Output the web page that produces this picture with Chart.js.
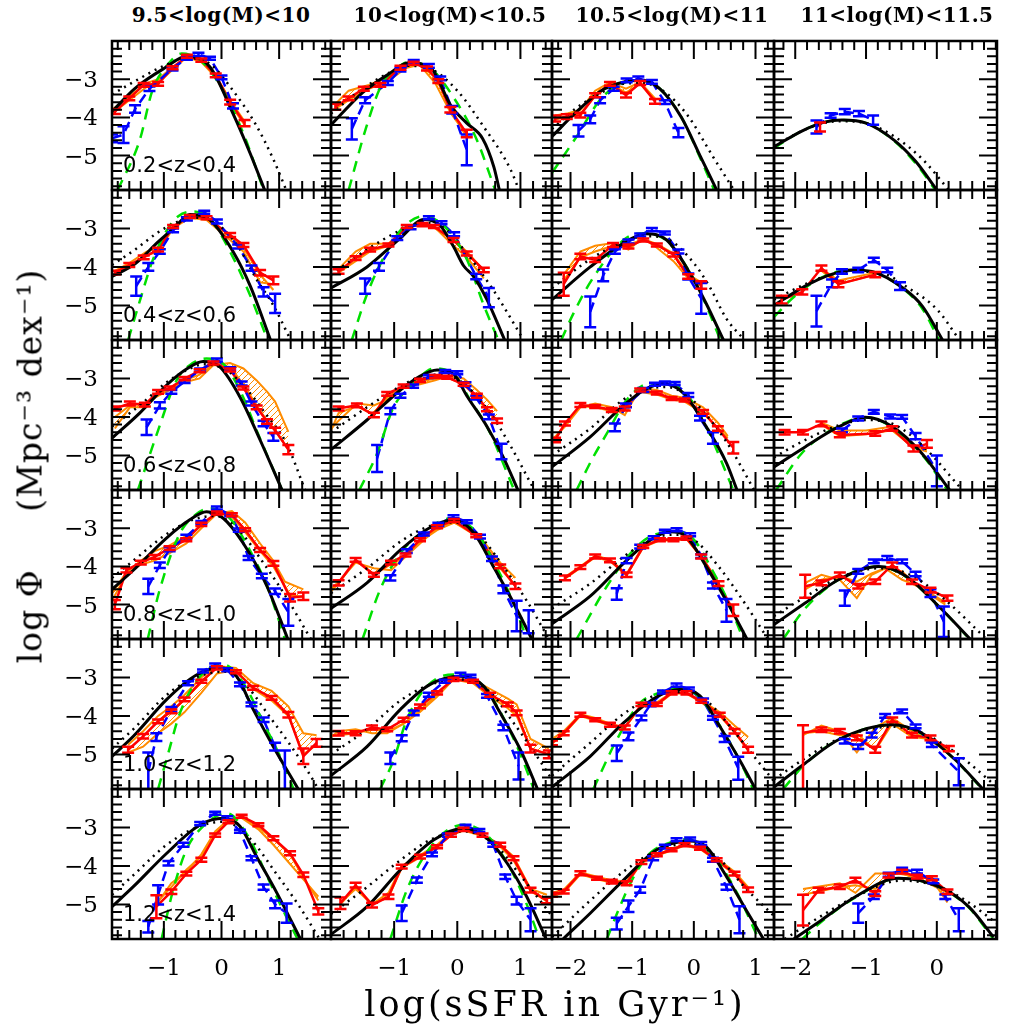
<!DOCTYPE html>
<html>
<head>
<meta charset="utf-8">
<script src="https://cdn.jsdelivr.net/npm/chart.js@4.4.1/dist/chart.umd.min.js"></script>
<style>
  body { margin: 0; background: #fff; }
  #page { position: relative; width: 1035px; height: 1035px; overflow: hidden; background: #fff; }
  canvas { position: absolute; }
  .txt { position: absolute; white-space: nowrap; color: #000; }
  .mass { font: bold 20px "DejaVu Serif"; letter-spacing: 0.5px; top: 3px; transform: translateX(-50%); }
  .zlab { font: 21px "DejaVu Sans"; }
  .axt { font: 35px "DejaVu Serif"; letter-spacing: 3px; }
  .ayt { font: 33px "DejaVu Serif"; letter-spacing: 1px; }
</style>
</head>
<body>
<div id="page"></div>
<script>
// Panel labels and axes
const massLabels = ["9.5<log(M)<10", "10<log(M)<10.5", "10.5<log(M)<11", "11<log(M)<11.5"];
const zLabels = ["0.2<z<0.4", "0.4<z<0.6", "0.6<z<0.8", "0.8<z<1.0", "1.0<z<1.2", "1.2<z<1.4"];
const xRanges = [[-1.9, 1.9], [-2, 1.5], [-2.3, 1.3], [-2.3, 0.85]];
const yRange = [-5.9, -2];
const yTickLabels = [-3, -4, -5];
const xTickLabels = [[-1, 0, 1], [-1, 0, 1], [-2, -1, 0, 1], [-2, -1, 0]];
const xMinorPerUnit = [5, 5, 5, 6];

// Panels in row order: (z bin) x (mass bin). Points are [logsSFR, logPhi]
const solidCurve = [
  [[-1.9,-3.85],[-1.5,-3.24],[-1.0,-2.72],[-0.6,-2.4],[-0.2,-2.68],[0.2,-3.9],[0.5,-4.95],[0.8,-6.1]],
  [[-2,-4.2],[-1.5,-3.35],[-1.1,-2.88],[-0.77,-2.57],[-0.4,-2.75],[-0.1,-3.7],[0.15,-4.15],[0.4,-4.55],[0.58,-5.3],[0.68,-6]],
  [[-2.3,-4.5],[-1.9,-3.85],[-1.5,-3.3],[-1.15,-3.08],[-0.87,-3.03],[-0.55,-3.25],[-0.2,-4.0],[0.1,-5.0],[0.37,-5.9]],
  [[-2.3,-4.77],[-1.9,-4.35],[-1.6,-4.13],[-1.34,-4.07],[-1.0,-4.15],[-0.6,-4.6],[-0.3,-5.15],[0.0,-5.9]],
  [[-1.9,-4.25],[-1.5,-3.92],[-1.1,-3.35],[-0.8,-2.95],[-0.55,-2.64],[-0.2,-2.78],[0.2,-3.6],[0.5,-4.5],[0.85,-5.9]],
  [[-2,-4.55],[-1.43,-4.0],[-0.9,-3.25],[-0.53,-2.77],[-0.27,-2.93],[-0.06,-3.47],[0.1,-3.97],[0.26,-4.25],[0.47,-4.85],[0.75,-5.9]],
  [[-2.3,-4.85],[-1.68,-4.0],[-1.14,-3.38],[-0.77,-3.14],[-0.44,-3.3],[-0.06,-4.17],[0.2,-4.95],[0.48,-5.9]],
  [[-2.3,-5.0],[-1.86,-4.5],[-1.5,-4.2],[-1.2,-4.08],[-0.92,-4.12],[-0.44,-4.6],[-0.2,-5.03],[0.08,-5.9]],
  [[-1.9,-4.55],[-1.42,-3.9],[-0.95,-3.17],[-0.6,-2.75],[-0.32,-2.56],[-0.03,-2.7],[0.32,-3.48],[0.67,-4.6],[1.05,-5.9]],
  [[-2,-4.85],[-1.43,-4.08],[-0.9,-3.3],[-0.6,-2.95],[-0.32,-2.78],[-0.05,-2.9],[0.15,-3.45],[0.47,-4.25],[0.73,-5.05],[0.96,-5.9]],
  [[-2.3,-5.3],[-1.68,-4.52],[-1.14,-3.7],[-0.8,-3.3],[-0.5,-3.14],[-0.17,-3.38],[0.2,-4.25],[0.53,-5.2],[0.7,-5.9]],
  [[-2.3,-5.3],[-1.86,-4.78],[-1.39,-4.26],[-1.01,-4.01],[-0.63,-4.25],[-0.21,-4.95],[0.18,-5.9]],
  [[-1.9,-4.6],[-1.53,-4.1],[-0.95,-3.25],[-0.55,-2.78],[-0.26,-2.57],[0.03,-2.74],[0.38,-3.4],[0.79,-4.52],[1.15,-5.9]],
  [[-2,-5.1],[-1.43,-4.43],[-0.9,-3.57],[-0.45,-3.0],[-0.06,-2.78],[0.26,-3.12],[0.57,-4.0],[0.89,-4.95],[1.18,-5.9]],
  [[-2.3,-5.5],[-1.68,-4.78],[-1.14,-3.92],[-0.7,-3.3],[-0.39,-3.09],[-0.12,-3.22],[0.2,-4.0],[0.58,-5.05],[0.86,-5.9]],
  [[-2.3,-5.52],[-1.86,-4.96],[-1.39,-4.35],[-0.82,-4.0],[-0.44,-4.25],[0.03,-5.05],[0.47,-5.9]],
  [[-1.9,-5.05],[-1.53,-4.53],[-0.95,-3.57],[-0.45,-2.95],[-0.03,-2.75],[0.26,-2.97],[0.55,-3.83],[0.9,-4.8],[1.33,-5.9]],
  [[-2,-5.55],[-1.43,-4.8],[-0.9,-3.83],[-0.45,-3.2],[0.05,-2.97],[0.42,-3.23],[0.68,-3.92],[1.0,-4.88],[1.27,-5.9]],
  [[-2.3,-5.85],[-1.68,-5.05],[-1.14,-4.18],[-0.6,-3.5],[-0.23,-3.31],[0.1,-3.48],[0.42,-4.27],[0.74,-5.14],[1.0,-5.9]],
  [[-2.3,-5.85],[-1.86,-5.23],[-1.39,-4.62],[-0.63,-4.23],[-0.21,-4.45],[0.26,-5.14],[0.65,-5.9]],
  [[-1.9,-5.06],[-1.53,-4.54],[-0.95,-3.67],[-0.37,-2.93],[0.03,-2.76],[0.32,-2.97],[0.61,-3.76],[0.96,-4.7],[1.37,-5.9]],
  [[-2,-5.78],[-1.43,-5.06],[-0.9,-4.1],[-0.37,-3.32],[0.1,-3.02],[0.47,-3.28],[0.79,-3.93],[1.1,-4.8],[1.42,-5.95]],
  [[-2.12,-5.9],[-1.68,-5.23],[-1.14,-4.37],[-0.6,-3.58],[-0.06,-3.35],[0.2,-3.5],[0.53,-4.28],[0.85,-5.15],[1.13,-5.9]],
  [[-2.02,-5.9],[-1.63,-5.41],[-1.15,-4.8],[-0.54,-4.32],[0.03,-4.54],[0.45,-5.06],[0.8,-5.85]]
];

const dottedCurve = [
  [[-1.9,-3.4],[-1.5,-3.05],[-1.0,-2.65],[-0.6,-2.45],[-0.2,-2.6],[0.2,-3.3],[0.6,-4.2],[0.9,-5.1],[1.15,-6.0]],
  [[-2,-3.9],[-1.5,-3.25],[-1.1,-2.85],[-0.8,-2.65],[-0.4,-2.75],[0,-3.3],[0.42,-4.25],[0.84,-5.35],[1.0,-6]],
  [[-2.3,-4.3],[-1.9,-3.75],[-1.5,-3.35],[-1.15,-3.12],[-0.85,-3.1],[-0.5,-3.3],[-0.1,-3.95],[0.3,-5.0],[0.65,-5.9]],
  [[-2.3,-4.75],[-1.9,-4.35],[-1.6,-4.15],[-1.34,-4.1],[-1.0,-4.15],[-0.6,-4.5],[-0.2,-5.1],[0.17,-5.9]],
  [[-1.9,-3.95],[-1.5,-3.55],[-1.1,-3.1],[-0.8,-2.85],[-0.5,-2.72],[-0.1,-2.85],[0.3,-3.5],[0.6,-4.3],[0.9,-5.0],[1.2,-5.9]],
  [[-2,-4.2],[-1.43,-3.55],[-0.9,-3.05],[-0.55,-2.85],[-0.2,-3.0],[0.15,-3.65],[0.57,-4.6],[1.05,-5.9]],
  [[-2.3,-4.55],[-1.68,-3.8],[-1.14,-3.35],[-0.77,-3.2],[-0.4,-3.3],[0.0,-3.9],[0.25,-4.5],[0.53,-5.35],[0.82,-5.9]],
  [[-2.3,-4.85],[-1.86,-4.45],[-1.5,-4.2],[-1.15,-4.12],[-0.8,-4.15],[-0.4,-4.55],[0,-5.1],[0.32,-5.9]],
  [[-1.9,-4.25],[-1.42,-3.7],[-0.95,-3.1],[-0.6,-2.78],[-0.3,-2.63],[0.1,-2.8],[0.45,-3.3],[0.73,-3.85],[1.13,-4.7],[1.45,-5.9]],
  [[-2,-4.4],[-1.43,-3.75],[-0.9,-3.2],[-0.5,-2.92],[-0.2,-2.9],[0.15,-3.2],[0.5,-3.85],[0.79,-4.6],[1.22,-5.9]],
  [[-2.3,-5.0],[-1.68,-4.3],[-1.14,-3.55],[-0.8,-3.3],[-0.45,-3.22],[-0.1,-3.45],[0.2,-3.95],[0.53,-4.65],[0.98,-5.9]],
  [[-2.3,-5.05],[-1.86,-4.6],[-1.39,-4.22],[-1.0,-4.08],[-0.6,-4.2],[-0.2,-4.75],[0.36,-5.9]],
  [[-1.9,-4.3],[-1.53,-3.85],[-0.95,-3.15],[-0.5,-2.78],[-0.1,-2.68],[0.3,-3.05],[0.7,-3.85],[1.1,-4.75],[1.55,-5.9]],
  [[-2,-4.7],[-1.43,-4.05],[-0.9,-3.35],[-0.45,-2.95],[-0.05,-2.85],[0.35,-3.2],[0.75,-4.05],[1.1,-4.9],[1.45,-5.9]],
  [[-2.3,-5.1],[-1.68,-4.45],[-1.14,-3.75],[-0.7,-3.3],[-0.35,-3.17],[0.0,-3.3],[0.4,-4.0],[0.8,-4.9],[1.2,-5.9]],
  [[-2.3,-5.3],[-1.86,-4.8],[-1.39,-4.3],[-0.82,-4.05],[-0.4,-4.2],[0.1,-4.85],[0.7,-5.9]],
  [[-1.9,-4.85],[-1.5,-4.3],[-0.95,-3.45],[-0.45,-3.0],[0.05,-2.85],[0.45,-3.25],[0.85,-4.05],[1.13,-4.62],[1.48,-5.4],[1.68,-5.9]],
  [[-2,-5.0],[-1.43,-4.35],[-0.9,-3.6],[-0.45,-3.2],[0.05,-3.05],[0.5,-3.35],[0.9,-4.2],[1.2,-4.9],[1.5,-5.65]],
  [[-2.3,-5.55],[-1.68,-4.7],[-1.14,-3.95],[-0.6,-3.45],[-0.2,-3.38],[0.2,-3.6],[0.6,-4.3],[1.0,-5.1],[1.3,-5.7]],
  [[-2.3,-5.65],[-1.86,-5.1],[-1.39,-4.6],[-0.63,-4.28],[-0.2,-4.45],[0.3,-5.0],[0.85,-5.85]],
  [[-1.9,-4.75],[-1.5,-4.2],[-0.95,-3.45],[-0.4,-2.98],[0.05,-2.85],[0.5,-3.3],[0.95,-4.2],[1.35,-5.05],[1.7,-5.9]],
  [[-2,-5.25],[-1.43,-4.55],[-0.9,-3.85],[-0.4,-3.3],[0.1,-3.1],[0.6,-3.45],[1.0,-4.25],[1.5,-5.3]],
  [[-2.3,-5.85],[-1.68,-4.9],[-1.14,-4.15],[-0.6,-3.6],[-0.06,-3.42],[0.4,-3.8],[0.85,-4.6],[1.3,-5.3]],
  [[-2.15,-5.9],[-1.63,-5.3],[-1.15,-4.8],[-0.5,-4.38],[0.05,-4.55],[0.45,-4.95],[0.85,-5.5]]
];

const greenCurve = [
  [[-1.8,-5.9],[-1.42,-4.6],[-1.2,-3.3],[-0.95,-2.65],[-0.69,-2.33],[-0.3,-2.6],[0.1,-3.5],[0.4,-4.5],[0.73,-5.9]],
  [[-1.72,-5.9],[-1.45,-4.3],[-1.2,-3.15],[-0.95,-2.7],[-0.77,-2.55],[-0.4,-2.75],[-0.05,-3.5],[0.3,-4.55],[0.6,-5.9]],
  [[-2.3,-5.45],[-1.9,-4.5],[-1.5,-3.5],[-1.15,-3.1],[-0.87,-3.03],[-0.55,-3.25],[-0.2,-4.0],[0.1,-5.05],[0.33,-5.9]],
  [[-2.3,-4.8],[-1.9,-4.35],[-1.6,-4.13],[-1.34,-4.07],[-1.0,-4.15],[-0.6,-4.62],[-0.3,-5.2],[-0.02,-5.9]],
  [[-1.62,-5.9],[-1.4,-4.8],[-1.2,-3.85],[-0.95,-3.05],[-0.75,-2.68],[-0.49,-2.56],[-0.2,-2.75],[0.2,-3.75],[0.5,-4.75],[0.8,-5.9]],
  [[-1.67,-5.9],[-1.45,-4.8],[-1.27,-4.1],[-0.9,-3.05],[-0.53,-2.68],[-0.2,-2.95],[0.15,-3.8],[0.42,-5.0],[0.65,-5.9]],
  [[-2.15,-5.9],[-1.95,-5.2],[-1.66,-4.35],[-1.14,-3.3],[-0.87,-3.13],[-0.5,-3.25],[-0.06,-4.15],[0.2,-5.0],[0.43,-5.9]],
  [[-2.3,-5.3],[-2.0,-4.75],[-1.6,-4.25],[-1.2,-4.08],[-0.92,-4.12],[-0.44,-4.62],[-0.2,-5.1],[0.03,-5.9]],
  [[-1.45,-5.9],[-1.1,-4.35],[-0.78,-3.05],[-0.5,-2.6],[-0.26,-2.48],[0.05,-2.65],[0.35,-3.4],[0.61,-4.35],[1.05,-5.9]],
  [[-1.55,-5.9],[-1.27,-4.95],[-1.01,-3.75],[-0.69,-3.13],[-0.37,-2.74],[-0.05,-2.9],[0.2,-3.55],[0.5,-4.35],[0.9,-5.9]],
  [[-1.9,-5.9],[-1.65,-5.1],[-1.41,-4.43],[-1.09,-3.56],[-0.71,-3.13],[-0.4,-3.15],[-0.1,-3.45],[0.2,-4.25],[0.64,-5.9]],
  [[-2.27,-5.9],[-1.91,-4.95],[-1.5,-4.35],[-1.01,-4.01],[-0.63,-4.27],[-0.21,-4.98],[0.15,-5.9]],
  [[-1.28,-5.9],[-1.07,-4.6],[-0.72,-3.13],[-0.45,-2.65],[-0.2,-2.48],[0.15,-2.75],[0.5,-3.6],[0.8,-4.55],[1.1,-5.9]],
  [[-1.5,-5.9],[-1.22,-4.6],[-0.9,-3.65],[-0.48,-3.03],[-0.1,-2.74],[0.3,-3.1],[0.6,-3.95],[0.9,-5.0],[1.1,-5.9]],
  [[-1.9,-5.9],[-1.41,-4.52],[-0.98,-3.57],[-0.71,-3.22],[-0.33,-3.09],[0.0,-3.3],[0.3,-4.1],[0.55,-4.9],[0.8,-5.9]],
  [[-2.17,-5.9],[-1.86,-5.1],[-1.39,-4.35],[-0.82,-4.0],[-0.44,-4.27],[0.03,-5.05],[0.46,-5.9]],
  [[-1.1,-5.9],[-0.92,-4.95],[-0.72,-3.92],[-0.37,-2.97],[0.03,-2.66],[0.4,-3.2],[0.75,-4.25],[1.0,-5.0],[1.25,-5.9]],
  [[-1.22,-5.9],[-1.01,-5.15],[-0.8,-4.1],[-0.48,-3.23],[-0.06,-2.92],[0.4,-3.2],[0.7,-3.95],[1.0,-5.0],[1.21,-5.9]],
  [[-1.63,-5.9],[-1.25,-4.62],[-0.87,-3.66],[-0.6,-3.42],[-0.33,-3.27],[0.05,-3.45],[0.42,-4.25],[0.74,-5.15],[0.96,-5.9]],
  [[-2.17,-5.9],[-1.86,-5.25],[-1.39,-4.62],[-0.63,-4.23],[-0.21,-4.47],[0.26,-5.15],[0.64,-5.9]],
  [[-1.04,-5.9],[-0.84,-4.63],[-0.61,-3.58],[-0.32,-2.97],[0.09,-2.63],[0.45,-3.2],[0.8,-4.3],[1.05,-5.1],[1.32,-5.9]],
  [[-1.06,-5.9],[-0.8,-4.63],[-0.53,-3.76],[-0.22,-3.15],[0.1,-2.93],[0.5,-3.25],[0.85,-4.1],[1.1,-5.0],[1.3,-5.9]],
  [[-1.41,-5.9],[-1.2,-5.06],[-0.98,-4.3],[-0.71,-3.67],[-0.4,-3.4],[-0.12,-3.32],[0.3,-3.7],[0.7,-4.7],[1.05,-5.9]],
  [[-1.9,-5.9],[-1.63,-5.45],[-1.15,-4.82],[-0.54,-4.32],[0.03,-4.55],[0.45,-5.08],[0.8,-5.9]]
];

// Measured points: [x, y, err] or [x, y, errDown, errUp]
const bluePoints = [
  [[-1.9,-4.55,0.1],[-1.7,-4.45,0.22],[-1.5,-3.78,0.1],[-1.25,-3.25,0.06],[-0.85,-2.72,0.05],[-0.6,-2.45,0.04],[-0.4,-2.35,0.04],[-0.2,-2.45,0.04],[0.0,-2.95,0.05],[0.2,-3.7,0.07]],
  [[-1.67,-4.3,0.28],[-1.46,-3.55,0.08],[-1.1,-3.1,0.05],[-0.9,-2.75,0.05],[-0.69,-2.55,0.05],[-0.45,-2.65,0.05],[-0.27,-2.98,0.05],[-0.08,-3.8,0.1],[0.15,-4.85,0.4]],
  [[-1.87,-4.35,0.15],[-1.68,-4.05,0.1],[-1.52,-3.55,0.08],[-1.3,-3.25,0.05],[-1.09,-3.03,0.05],[-0.9,-2.98,0.05],[-0.68,-3.07,0.05],[-0.47,-3.6,0.05],[-0.25,-4.4,0.12]],
  [[-1.7,-4.25,0.17],[-1.5,-3.95,0.06],[-1.3,-3.85,0.07],[-1.1,-3.9,0.07],[-0.9,-4.07,0.12]],
  [[-1.48,-4.5,0.25],[-1.27,-4.0,0.1],[-1.07,-3.6,0.06],[-0.84,-3.05,0.05],[-0.6,-2.75,0.04],[-0.3,-2.58,0.04],[-0.08,-2.82,0.05],[0.29,-3.47,0.05],[0.52,-4.03,0.07],[0.73,-4.65,0.12],[0.93,-4.95,0.25]],
  [[-1.46,-4.5,0.2],[-1.24,-4.0,0.1],[-0.95,-3.25,0.05],[-0.74,-2.97,0.05],[-0.45,-2.72,0.04],[-0.25,-2.85,0.04],[-0.05,-3.15,0.05],[0.3,-4.25,0.07],[0.5,-4.8,0.25]],
  [[-1.68,-5.17,0.4],[-1.47,-4.22,0.15],[-1.28,-3.6,0.06],[-1.06,-3.34,0.05],[-0.87,-3.17,0.04],[-0.68,-3.03,0.04],[-0.47,-3.12,0.04],[-0.25,-3.6,0.05],[-0.09,-4.25,0.08],[0.12,-4.82,0.4]],
  [[-1.7,-5.15,0.4],[-1.48,-4.43,0.1],[-1.34,-4.12,0.06],[-1.11,-4.08,0.06],[-0.89,-3.82,0.06],[-0.7,-4.08,0.06],[-0.52,-4.5,0.1]],
  [[-1.3,-4.27,0.2],[-1.07,-3.7,0.08],[-0.87,-3.35,0.05],[-0.64,-3.08,0.04],[-0.37,-2.78,0.04],[-0.08,-2.52,0.04],[0.15,-2.75,0.04],[0.35,-3.13,0.05],[0.52,-3.65,0.05],[0.73,-4.17,0.07],[0.9,-4.52,0.1]],
  [[-1.27,-5.08,0.35],[-1.06,-3.85,0.08],[-0.9,-3.45,0.05],[-0.7,-3.2,0.04],[-0.45,-2.95,0.04],[-0.19,-2.82,0.04],[0.0,-2.85,0.04],[0.13,-3.15,0.05],[0.3,-3.5,0.05],[0.5,-4.0,0.06],[0.7,-4.9,0.2]],
  [[-1.28,-4.27,0.1],[-1.1,-3.7,0.05],[-0.82,-3.3,0.05],[-0.63,-3.15,0.04],[-0.47,-3.12,0.04],[-0.31,-3.13,0.04],[-0.09,-3.43,0.05],[0.1,-4.03,0.06],[0.31,-4.55,0.15]],
  [[-1.34,-4.35,0.05],[-1.11,-4.04,0.05],[-0.89,-3.87,0.05],[-0.66,-3.99,0.05],[-0.49,-4.0,0.05],[-0.3,-4.5,0.08],[0.0,-5.4,0.4]],
  [[-1.27,-4.52,0.2],[-1.07,-3.97,0.07],[-0.9,-3.55,0.05],[-0.61,-3.22,0.05],[-0.35,-2.85,0.04],[-0.08,-2.47,0.04],[0.15,-2.65,0.04],[0.3,-3.05,0.04],[0.47,-3.78,0.05],[0.7,-4.25,0.06],[0.93,-4.65,0.07],[1.16,-5.2,0.35]],
  [[-1.06,-4.3,0.07],[-0.8,-3.6,0.05],[-0.53,-3.15,0.04],[-0.3,-2.9,0.04],[-0.06,-2.7,0.04],[0.15,-2.83,0.04],[0.36,-3.22,0.05],[0.55,-3.8,0.06],[0.73,-4.6,0.1],[0.94,-5.3,0.4],[1.13,-5.45,0.3]],
  [[-1.25,-4.72,0.15],[-1.09,-3.85,0.07],[-0.87,-3.48,0.05],[-0.65,-3.25,0.04],[-0.47,-3.08,0.04],[-0.28,-3.04,0.04],[-0.06,-3.17,0.04],[0.12,-3.73,0.05],[0.31,-4.5,0.08],[0.53,-5.15,0.3]],
  [[-1.3,-4.83,0.2],[-1.11,-4.13,0.06],[-0.89,-3.87,0.05],[-0.7,-3.78,0.05],[-0.49,-3.87,0.05],[-0.3,-4.2,0.06],[-0.09,-4.7,0.1],[0.1,-5.45,0.4]],
  [[-1.27,-5.45,0.5],[-1.13,-4.55,0.1],[-0.87,-3.83,0.06],[-0.58,-3.15,0.05],[-0.32,-2.83,0.04],[-0.11,-2.68,0.04],[0.1,-2.8,0.04],[0.32,-3.18,0.05],[0.52,-3.7,0.05],[0.73,-4.1,0.06],[0.93,-4.8,0.1],[1.1,-5.4,0.5]],
  [[-1.06,-5.1,0.15],[-0.88,-4.58,0.08],[-0.69,-3.92,0.06],[-0.45,-3.45,0.05],[-0.2,-3.1,0.04],[0.05,-2.92,0.04],[0.21,-2.97,0.04],[0.47,-3.48,0.05],[0.73,-4.3,0.07],[0.97,-5.3,0.35]],
  [[-1.25,-4.97,0.2],[-1.06,-4.53,0.1],[-0.85,-4.05,0.06],[-0.7,-3.7,0.05],[-0.5,-3.38,0.04],[-0.28,-3.2,0.04],[-0.08,-3.3,0.04],[0.15,-3.6,0.05],[0.31,-4.05,0.05],[0.5,-4.6,0.08],[0.72,-5.36,0.3]],
  [[-1.3,-4.66,0.06],[-1.11,-4.8,0.06],[-0.92,-4.5,0.06],[-0.73,-4.0,0.05],[-0.49,-3.88,0.05],[-0.3,-4.27,0.05],[-0.07,-4.75,0.06],[0.31,-5.45,0.35]],
  [[-1.27,-5.58,0.15],[-1.1,-4.75,0.25],[-0.92,-3.93,0.06],[-0.66,-3.45,0.05],[-0.37,-2.9,0.04],[-0.11,-2.63,0.04],[0.1,-2.75,0.04],[0.32,-3.1,0.04],[0.52,-3.8,0.05],[0.73,-4.55,0.07],[0.93,-5.0,0.1],[1.13,-5.23,0.25]],
  [[-0.88,-5.23,0.2],[-0.64,-4.37,0.07],[-0.4,-3.7,0.05],[-0.15,-3.2,0.04],[0.13,-2.97,0.04],[0.35,-3.08,0.04],[0.57,-3.45,0.05],[0.76,-4.28,0.06],[0.94,-4.9,0.1],[1.16,-5.4,0.3]],
  [[-1.25,-5.5,0.15],[-1.06,-5.05,0.15],[-0.87,-4.62,0.08],[-0.66,-3.8,0.05],[-0.47,-3.5,0.05],[-0.28,-3.32,0.04],[-0.06,-3.3,0.04],[0.12,-3.42,0.04],[0.31,-3.84,0.05],[0.53,-4.55,0.07],[0.74,-5.4,0.35]],
  [[-1.11,-5.23,0.25],[-0.89,-4.8,0.06],[-0.68,-4.23,0.05],[-0.49,-4.1,0.05],[-0.28,-4.15,0.05],[-0.05,-4.4,0.05],[0.12,-4.8,0.06],[0.31,-5.4,0.3]]
];

const redPoints = [
  [[-1.85,-3.85,0.06],[-1.6,-3.5,0.05],[-1.35,-3.15,0.05],[-1.1,-3.12,0.05],[-0.85,-2.7,0.04],[-0.6,-2.4,0.04],[-0.35,-2.5,0.04],[-0.1,-2.9,0.05],[0.15,-3.6,0.06],[0.4,-4.15,0.08]],
  [[-1.93,-3.72,0.08],[-1.72,-3.5,0.05],[-1.48,-3.25,0.05],[-1.22,-3.15,0.05],[-0.9,-2.7,0.05],[-0.69,-2.58,0.04],[-0.48,-2.72,0.05],[-0.3,-3.05,0.05],[-0.11,-3.8,0.07],[0.15,-4.42,0.1]],
  [[-2.25,-4.03,0.08],[-2.06,-3.98,0.06],[-1.84,-3.94,0.06],[-1.6,-3.42,0.05],[-1.36,-3.12,0.05],[-1.1,-3.42,0.06],[-0.87,-3.1,0.05],[-0.63,-3.58,0.06]],
  [[-1.65,-4.25,0.12]],
  [[-1.85,-4.15,0.05],[-1.6,-3.95,0.05],[-1.35,-3.75,0.05],[-1.1,-3.55,0.05],[-0.84,-2.95,0.04],[-0.55,-2.69,0.04],[-0.26,-2.72,0.04],[0.15,-3.17,0.05],[0.38,-3.43,0.05],[0.67,-4.15,0.07],[0.9,-4.35,0.1]],
  [[-1.88,-4.12,0.06],[-1.61,-3.77,0.05],[-1.38,-3.55,0.05],[-1.09,-3.43,0.04],[-0.8,-2.95,0.04],[-0.55,-2.9,0.04],[-0.37,-2.95,0.04],[-0.06,-3.3,0.05],[0.15,-3.65,0.05],[0.42,-4.08,0.06]],
  [[-2.11,-4.45,0.3],[-1.84,-3.73,0.07],[-1.6,-3.82,0.05],[-1.31,-3.43,0.05],[-1.06,-3.47,0.05],[-0.82,-3.3,0.04],[-0.6,-3.43,0.04],[-0.33,-3.68,0.05],[-0.09,-4.25,0.06],[0.12,-4.47,0.1]],
  [[-2.19,-4.85,0.1],[-1.9,-4.65,0.07],[-1.63,-4.03,0.07],[-1.39,-4.45,0.08],[-0.87,-4.2,0.07]],
  [[-1.85,-3.78,0.05],[-1.59,-3.65,0.05],[-1.33,-3.68,0.05],[-1.1,-3.35,0.05],[-0.9,-3.25,0.04],[-0.64,-3.0,0.04],[-0.38,-2.8,0.04],[-0.14,-2.6,0.04],[0.15,-2.78,0.04],[0.38,-3.25,0.04],[0.61,-3.75,0.05],[0.79,-4.12,0.06],[0.93,-4.35,0.07],[1.16,-4.85,0.12]],
  [[-1.88,-3.78,0.05],[-1.59,-3.7,0.05],[-1.32,-3.95,0.06],[-1.11,-3.4,0.05],[-0.85,-3.2,0.04],[-0.59,-3.05,0.04],[-0.35,-2.95,0.04],[-0.16,-2.97,0.04],[0.1,-3.15,0.04],[0.31,-3.45,0.05],[0.47,-3.8,0.05],[0.63,-4.1,0.06]],
  [[-2.25,-4.6,0.06],[-2.09,-4.17,0.05],[-1.84,-3.69,0.05],[-1.6,-3.73,0.04],[-1.33,-3.82,0.05],[-1.12,-3.78,0.05],[-0.87,-3.3,0.04],[-0.6,-3.38,0.04],[-0.36,-3.52,0.04],[-0.15,-3.56,0.04],[0.15,-3.87,0.05],[0.39,-4.3,0.06],[0.64,-4.8,0.15]],
  [[-2.15,-4.4,0.06],[-1.89,-4.4,0.06],[-1.63,-4.18,0.06],[-1.37,-4.47,0.06],[-0.87,-4.43,0.06],[-0.63,-4.3,0.06],[-0.33,-4.82,0.08],[-0.14,-4.7,0.1]],
  [[-1.85,-5.0,0.12],[-1.65,-4.1,0.06],[-1.4,-3.9,0.05],[-1.16,-3.75,0.05],[-0.9,-3.52,0.05],[-0.61,-3.3,0.04],[-0.35,-2.9,0.04],[-0.08,-2.6,0.04],[0.18,-2.65,0.04],[0.41,-3.04,0.04],[0.67,-3.57,0.05],[0.9,-3.92,0.06],[1.19,-4.82,0.1],[1.42,-4.78,0.1]],
  [[-1.88,-4.43,0.07],[-1.61,-3.83,0.05],[-1.32,-4.22,0.05],[-1.05,-3.9,0.05],[-0.82,-3.7,0.04],[-0.59,-3.3,0.04],[-0.32,-2.96,0.04],[-0.05,-2.8,0.04],[0.3,-3.2,0.04],[0.68,-4.0,0.05],[0.92,-4.52,0.07]],
  [[-2.09,-4.3,0.06],[-1.84,-4.02,0.05],[-1.6,-3.74,0.05],[-1.36,-3.84,0.05],[-1.09,-4.22,0.06],[-0.82,-3.48,0.04],[-0.55,-3.3,0.04],[-0.33,-3.3,0.04],[-0.12,-3.26,0.04],[0.12,-3.74,0.05],[0.4,-4.45,0.06],[0.64,-5.15,0.15]],
  [[-1.86,-4.52,0.3],[-1.63,-4.43,0.06],[-1.37,-4.22,0.06],[-1.11,-4.52,0.06],[-0.87,-4.4,0.06],[-0.63,-3.96,0.06],[-0.35,-4.4,0.06],[-0.09,-4.62,0.06],[0.15,-4.83,0.07]],
  [[-1.62,-4.88,0.08],[-1.36,-4.53,0.06],[-1.1,-4.14,0.05],[-0.87,-3.88,0.05],[-0.64,-3.57,0.05],[-0.35,-3.1,0.04],[-0.08,-2.75,0.04],[0.25,-2.85,0.04],[0.55,-3.27,0.05],[0.87,-3.53,0.05],[1.16,-3.97,0.07],[1.42,-5.05,0.2],[1.65,-4.7,0.1]],
  [[-1.88,-4.45,0.06],[-1.61,-4.45,0.05],[-1.35,-4.3,0.05],[-1.11,-4.35,0.05],[-0.85,-4.1,0.05],[-0.59,-3.75,0.05],[-0.32,-3.4,0.04],[-0.06,-3.05,0.04],[0.25,-3.1,0.04],[0.52,-3.45,0.05],[0.8,-3.7,0.05],[0.94,-3.92,0.06],[1.16,-4.85,0.1],[1.45,-5.0,0.1]],
  [[-2.3,-4.7,0.06],[-2.11,-4.45,0.05],[-1.84,-3.97,0.05],[-1.6,-4.1,0.04],[-1.36,-4.23,0.05],[-1.12,-4.3,0.05],[-0.85,-3.7,0.04],[-0.6,-3.7,0.04],[-0.36,-3.4,0.04],[-0.12,-3.4,0.04],[0.12,-3.62,0.04],[0.42,-3.97,0.05],[0.66,-4.4,0.06],[0.88,-4.88,0.08]],
  [[-1.89,-4.44,1.6,0.2],[-1.63,-4.36,0.06],[-1.37,-4.4,0.06],[-1.13,-4.57,0.06],[-0.87,-4.88,0.08],[-0.63,-4.1,0.06],[-0.35,-4.5,0.06],[-0.09,-4.57,0.06],[0.17,-4.85,0.07]],
  [[-1.13,-5.06,0.3],[-0.87,-4.67,0.06],[-0.61,-4.2,0.05],[-0.35,-3.84,0.05],[-0.11,-3.2,0.04],[0.12,-2.85,0.04],[0.35,-2.71,0.04],[0.64,-2.93,0.04],[0.9,-3.28,0.05],[1.19,-3.67,0.05],[1.42,-4.23,0.06],[1.68,-5.18,0.08]],
  [[-1.85,-4.97,0.15],[-1.61,-4.5,0.06],[-1.35,-5.02,0.06],[-1.09,-4.8,0.06],[-0.88,-4.02,0.05],[-0.59,-3.76,0.05],[-0.32,-3.5,0.04],[-0.1,-3.2,0.04],[0.1,-3.05,0.04],[0.4,-3.2,0.04],[0.68,-3.45,0.05],[0.89,-3.8,0.05],[1.16,-4.63,0.06],[1.42,-4.9,0.07]],
  [[-2.3,-4.75,0.05],[-2.11,-4.67,0.05],[-1.84,-4.19,0.05],[-1.57,-4.32,0.04],[-1.33,-4.41,0.05],[-1.09,-4.45,0.05],[-0.85,-3.9,0.05],[-0.6,-3.71,0.04],[-0.36,-3.58,0.04],[-0.15,-3.45,0.04],[0.1,-3.54,0.04],[0.37,-3.84,0.04],[0.66,-4.2,0.05],[0.88,-4.62,0.06]],
  [[-1.89,-5.15,0.4],[-1.67,-4.63,0.06],[-1.37,-4.54,0.06],[-1.15,-4.37,0.06],[-0.87,-4.72,0.06],[-0.68,-4.25,0.05],[-0.49,-4.15,0.05],[-0.28,-4.28,0.05],[-0.07,-4.32,0.05],[0.15,-4.67,0.06]]
];

// Orange envelope: upper/lower lines, hatched between them
const orangeUpper = [
  [[-1.9,-3.8],[-1.6,-3.45],[-1.3,-3.1],[-1.1,-3.0],[-0.85,-2.68],[-0.6,-2.42],[-0.35,-2.55],[-0.1,-2.95],[0.15,-3.65],[0.4,-4.2]],
  [[-1.93,-3.65],[-1.72,-3.3],[-1.4,-3.15],[-1.1,-2.95],[-0.8,-2.62],[-0.6,-2.62],[-0.35,-3.1],[-0.1,-3.9],[0.12,-4.4]],
  [[-2.25,-3.95],[-2.06,-3.9],[-1.84,-3.8],[-1.6,-3.3],[-1.36,-3.08],[-1.1,-3.25],[-0.87,-3.08],[-0.63,-3.5]],
  [],
  [[-1.85,-4.1],[-1.6,-3.9],[-1.3,-3.6],[-1.1,-3.5],[-0.84,-2.95],[-0.55,-2.68],[-0.26,-2.72],[0.15,-3.2],[0.38,-3.5],[0.67,-4.2],[0.9,-4.6]],
  [[-1.88,-4.05],[-1.61,-3.6],[-1.38,-3.4],[-1.09,-3.4],[-0.8,-2.95],[-0.55,-2.88],[-0.37,-2.95],[-0.06,-3.45],[0.15,-3.75],[0.42,-4.3]],
  [[-2.11,-4.2],[-1.84,-3.6],[-1.6,-3.45],[-1.31,-3.38],[-1.06,-3.55],[-0.82,-3.25],[-0.6,-3.5],[-0.33,-3.85],[-0.09,-4.3],[0.12,-4.5]],
  [[-1.63,-4.05],[-1.39,-4.35],[-0.87,-4.15]],
  [[-1.85,-4.0],[-1.59,-3.7],[-1.33,-3.65],[-1.1,-3.45],[-0.9,-3.3],[-0.64,-3.1],[-0.38,-3.0],[-0.14,-2.65],[0.15,-2.6],[0.38,-2.74],[0.61,-3.05],[0.79,-3.34],[0.93,-3.6],[1.16,-4.39]],
  [[-2,-4.3],[-1.88,-4.1],[-1.59,-3.65],[-1.32,-3.7],[-1.11,-3.55],[-0.85,-3.2],[-0.59,-3.15],[-0.35,-3.05],[-0.16,-2.95],[0.1,-3.0],[0.31,-3.3],[0.47,-3.55],[0.63,-3.85]],
  [[-2.3,-4.6],[-2.09,-4.25],[-1.84,-3.75],[-1.6,-3.65],[-1.33,-3.75],[-1.12,-3.95],[-0.87,-3.25],[-0.6,-3.3],[-0.36,-3.45],[-0.15,-3.5],[0.15,-3.75],[0.39,-4.15],[0.55,-4.5]],
  [[-1.63,-4.15],[-1.37,-4.35],[-1.0,-4.35],[-0.63,-4.25],[-0.33,-4.75],[-0.14,-4.85]],
  [[-1.9,-4.9],[-1.65,-4.2],[-1.4,-3.95],[-1.16,-3.85],[-0.9,-3.65],[-0.61,-3.4],[-0.35,-3.0],[-0.08,-2.62],[0.18,-2.55],[0.41,-2.85],[0.67,-3.4],[0.9,-3.85],[1.1,-4.4],[1.42,-4.6]],
  [[-2,-4.6],[-1.88,-4.4],[-1.61,-3.9],[-1.32,-4.05],[-1.05,-4.1],[-0.82,-3.75],[-0.59,-3.4],[-0.32,-3.0],[-0.05,-2.85],[0.3,-3.1],[0.68,-3.9],[0.92,-4.3]],
  [[-2.09,-4.28],[-1.84,-4.0],[-1.6,-3.72],[-1.36,-3.82],[-1.09,-4.2],[-0.82,-3.46],[-0.55,-3.28],[-0.33,-3.28],[-0.12,-3.24],[0.12,-3.72],[0.4,-4.42]],
  [[-1.86,-4.43],[-1.63,-4.22],[-1.37,-4.35],[-1.13,-4.83],[-0.92,-4.22],[-0.73,-4.05],[-0.49,-4.13],[-0.35,-4.39],[-0.09,-4.74],[0.12,-5.0]],
  [[-1.62,-4.75],[-1.36,-4.4],[-1.1,-4.0],[-0.87,-3.75],[-0.64,-3.45],[-0.35,-3.0],[-0.08,-2.7],[0.25,-2.75],[0.55,-3.15],[0.87,-3.35],[1.16,-3.75],[1.42,-4.45],[1.65,-4.5]],
  [[-2,-4.55],[-1.88,-4.4],[-1.61,-4.35],[-1.35,-4.45],[-1.11,-4.45],[-0.85,-4.2],[-0.59,-3.9],[-0.32,-3.5],[-0.06,-3.05],[0.25,-3.05],[0.52,-3.3],[0.8,-3.55],[0.94,-3.7],[1.16,-4.6],[1.45,-4.85]],
  [[-2.3,-4.6],[-2.11,-4.4],[-1.84,-3.95],[-1.6,-4.05],[-1.36,-4.2],[-1.12,-4.3],[-0.85,-3.72],[-0.6,-3.65],[-0.36,-3.4],[-0.12,-3.4],[0.12,-3.6],[0.42,-3.9],[0.66,-4.25],[0.88,-4.55]],
  [[-1.89,-4.5],[-1.63,-4.25],[-1.37,-4.4],[-1.13,-4.95],[-0.87,-4.3],[-0.63,-4.05],[-0.35,-4.4],[-0.09,-4.65],[0.17,-4.95]],
  [[-1.13,-5.0],[-0.87,-4.45],[-0.61,-4.15],[-0.35,-3.7],[-0.11,-3.1],[0.12,-2.8],[0.35,-2.75],[0.64,-3.05],[0.9,-3.45],[1.19,-3.95],[1.42,-4.35],[1.68,-4.8]],
  [[-1.85,-4.95],[-1.61,-4.6],[-1.35,-5.0],[-1.09,-4.7],[-0.88,-4.0],[-0.59,-3.72],[-0.32,-3.45],[-0.1,-3.15],[0.1,-3.05],[0.4,-3.2],[0.68,-3.45],[0.89,-3.75],[1.16,-4.6],[1.42,-4.75]],
  [[-2.3,-4.7],[-2.11,-4.62],[-1.84,-4.17],[-1.57,-4.28],[-1.33,-4.38],[-1.09,-4.4],[-0.85,-3.88],[-0.6,-3.7],[-0.36,-3.56],[-0.15,-3.44],[0.1,-3.52],[0.37,-3.8],[0.66,-4.15],[0.88,-4.55]],
  [[-1.89,-4.6],[-1.37,-4.45],[-1.15,-4.7],[-0.87,-4.2],[-0.55,-4.2],[-0.07,-4.35],[0.15,-4.95]]
];

const orangeLower = [
  [[-1.9,-3.9],[-1.6,-3.55],[-1.3,-3.2],[-1.1,-3.1],[-0.85,-2.75],[-0.6,-2.42],[-0.35,-2.5],[-0.1,-2.9],[0.15,-3.55],[0.4,-4.1]],
  [[-1.93,-3.78],[-1.72,-3.55],[-1.4,-3.25],[-1.1,-3.05],[-0.8,-2.7],[-0.6,-2.62],[-0.35,-2.95],[-0.1,-3.75],[0.12,-4.45]],
  [[-2.25,-4.05],[-2.06,-4.0],[-1.84,-3.9],[-1.6,-3.45],[-1.36,-3.12],[-1.1,-3.35],[-0.87,-3.12],[-0.63,-3.55]],
  [],
  [[-1.85,-4.2],[-1.6,-4.0],[-1.3,-3.7],[-1.1,-3.6],[-0.84,-3.0],[-0.55,-2.72],[-0.26,-2.78],[0.15,-3.3],[0.38,-3.6],[0.67,-4.4],[0.9,-4.45]],
  [[-1.88,-4.15],[-1.61,-3.85],[-1.38,-3.6],[-1.09,-3.45],[-0.8,-2.98],[-0.55,-2.9],[-0.37,-2.98],[-0.06,-3.3],[0.15,-3.6],[0.42,-4.1]],
  [[-2.11,-4.35],[-1.84,-3.75],[-1.6,-3.6],[-1.31,-3.45],[-1.06,-3.42],[-0.82,-3.28],[-0.6,-3.4],[-0.33,-3.65],[-0.09,-4.2],[0.12,-4.4]],
  [[-1.63,-4.1],[-1.39,-4.45],[-0.87,-4.2]],
  [[-1.85,-4.3],[-1.59,-3.75],[-1.33,-3.75],[-1.1,-3.4],[-0.9,-3.25],[-0.64,-3.05],[-0.38,-2.9],[-0.14,-2.65],[0.15,-2.7],[0.38,-3.15],[0.61,-3.7],[0.79,-4.1],[0.93,-4.35],[1.16,-4.85]],
  [[-2,-4.35],[-1.88,-3.9],[-1.59,-3.72],[-1.32,-3.95],[-1.11,-3.45],[-0.85,-3.25],[-0.59,-3.08],[-0.35,-3.0],[-0.16,-2.98],[0.1,-3.15],[0.31,-3.5],[0.47,-3.85],[0.63,-4.1]],
  [[-2.3,-4.65],[-2.09,-4.2],[-1.84,-3.72],[-1.6,-3.75],[-1.33,-3.85],[-1.12,-3.8],[-0.87,-3.35],[-0.6,-3.42],[-0.36,-3.55],[-0.15,-3.6],[0.15,-3.9],[0.39,-4.3],[0.55,-4.55]],
  [[-1.63,-4.2],[-1.37,-4.5],[-1.0,-4.45],[-0.63,-4.35],[-0.33,-4.8],[-0.14,-4.9]],
  [[-1.9,-4.7],[-1.65,-4.15],[-1.4,-3.85],[-1.16,-3.6],[-0.9,-3.45],[-0.61,-3.2],[-0.35,-2.95],[-0.08,-2.6],[0.18,-2.7],[0.41,-3.1],[0.67,-3.6],[0.9,-4.0],[1.19,-4.75],[1.42,-4.8]],
  [[-2,-4.65],[-1.88,-4.45],[-1.61,-3.85],[-1.32,-4.2],[-1.05,-3.95],[-0.82,-3.75],[-0.59,-3.35],[-0.32,-3.05],[-0.05,-2.85],[0.3,-3.2],[0.68,-4.05],[0.92,-4.5]],
  [[-2.09,-4.32],[-1.84,-4.04],[-1.6,-3.76],[-1.36,-3.86],[-1.09,-4.24],[-0.82,-3.5],[-0.55,-3.32],[-0.33,-3.32],[-0.12,-3.28],[0.12,-3.76],[0.4,-4.48]],
  [[-1.86,-4.6],[-1.63,-4.35],[-1.37,-4.25],[-1.13,-4.4],[-0.92,-4.18],[-0.73,-4.05],[-0.49,-4.35],[-0.35,-4.45],[-0.09,-4.7],[0.12,-4.95]],
  [[-1.62,-4.95],[-1.36,-4.8],[-1.1,-4.45],[-0.87,-4.2],[-0.64,-3.9],[-0.35,-3.4],[-0.08,-2.9],[0.25,-2.8],[0.55,-3.3],[0.87,-3.6],[1.16,-4.0],[1.42,-5.0],[1.65,-4.75]],
  [[-2,-4.5],[-1.88,-4.5],[-1.61,-4.45],[-1.35,-4.35],[-1.11,-4.4],[-0.85,-4.2],[-0.59,-3.85],[-0.32,-3.45],[-0.06,-3.05],[0.25,-3.15],[0.52,-3.5],[0.8,-3.8],[0.94,-4.0],[1.16,-4.85],[1.45,-5.0]],
  [[-2.3,-4.72],[-2.11,-4.47],[-1.84,-4.0],[-1.6,-4.12],[-1.36,-4.25],[-1.12,-4.32],[-0.85,-3.72],[-0.6,-3.72],[-0.36,-3.42],[-0.12,-3.42],[0.12,-3.64],[0.42,-4.0],[0.66,-4.42],[0.88,-4.9]],
  [[-1.89,-4.45],[-1.63,-4.4],[-1.37,-4.5],[-1.13,-4.45],[-0.87,-4.9],[-0.63,-4.2],[-0.35,-4.55],[-0.09,-4.6],[0.17,-4.9]],
  [[-1.13,-4.95],[-0.87,-4.55],[-0.61,-4.1],[-0.35,-3.75],[-0.11,-3.15],[0.12,-2.85],[0.35,-2.72],[0.64,-3.0],[0.9,-3.3],[1.19,-3.7],[1.42,-4.3],[1.68,-4.9]],
  [[-1.85,-5.0],[-1.61,-4.55],[-1.35,-4.98],[-1.09,-4.82],[-0.88,-4.05],[-0.59,-3.78],[-0.32,-3.5],[-0.1,-3.2],[0.1,-3.08],[0.4,-3.22],[0.68,-3.5],[0.89,-3.85],[1.16,-4.65],[1.42,-4.92]],
  [[-2.3,-4.78],[-2.11,-4.7],[-1.84,-4.22],[-1.57,-4.35],[-1.33,-4.44],[-1.09,-4.48],[-0.85,-3.92],[-0.6,-3.73],[-0.36,-3.6],[-0.15,-3.47],[0.1,-3.56],[0.37,-3.87],[0.66,-4.22],[0.88,-4.65]],
  [[-1.89,-4.75],[-1.37,-4.55],[-1.15,-4.5],[-0.87,-4.6],[-0.55,-4.15],[-0.07,-4.5],[0.15,-4.7]]
];

// Layout (pixels)
const colEdges = [112, 331, 552, 774, 997];
const rowEdges = [41, 190, 340, 490, 639, 789, 939];
const massCenters = [221, 450, 672, 897];

const page = document.getElementById("page");
const BLUE = "#0000ff", RED = "#ff0000", ORANGE = "#ff8c00", GREEN = "#00e000";

// Orange hatch pattern
const hatch = (() => {
    const c = document.createElement("canvas");
    c.width = c.height = 6;
    const g = c.getContext("2d");
    g.strokeStyle = ORANGE; g.lineWidth = 1;
    g.beginPath();
    g.moveTo(0, 6); g.lineTo(6, 0);
    g.moveTo(-1, 1); g.lineTo(1, -1);
    g.moveTo(5, 7); g.lineTo(7, 5);
    g.stroke();
    return g.createPattern(c, "repeat");
})();

const toXY = a => a.map(p => ({ x: p[0], y: p[1] }));
const toErr = a => a.map(p => p.length > 3 ? [p[2], p[3]] : [p[2], p[2]]);

// Error bars, frame, inward ticks and tick labels
const panelAxes = {
    id: "panelAxes",
    afterDatasetsDraw(chart) {
        const { ctx, chartArea: a, scales: { x, y } } = chart;
        ctx.save();
        ctx.beginPath(); ctx.rect(a.left, a.top, a.right - a.left, a.bottom - a.top); ctx.clip();
        ctx.setLineDash([]); ctx.lineWidth = 2.5;
        for (const ds of chart.data.datasets) {
            if (!ds.errs) continue;
            ctx.strokeStyle = ds.borderColor;
            ctx.beginPath();
            ds.data.forEach((p, i) => {
                const px = x.getPixelForValue(p.x);
                const y0 = y.getPixelForValue(p.y - ds.errs[i][0]), y1 = y.getPixelForValue(p.y + ds.errs[i][1]);
                ctx.moveTo(px, y0); ctx.lineTo(px, y1);
                ctx.moveTo(px - 6, y0); ctx.lineTo(px + 6, y0);
                ctx.moveTo(px - 6, y1); ctx.lineTo(px + 6, y1);
            });
            ctx.stroke();
        }
        ctx.restore();
    },
    afterDraw(chart, args, opts) {
        const { ctx, chartArea: a, scales: { x, y } } = chart;
        ctx.save();
        ctx.strokeStyle = "#000"; ctx.lineWidth = 2; ctx.setLineDash([]);
        ctx.beginPath();
        const n = opts.minor;
        for (let k = Math.ceil(x.min * n - 1e-6); k <= Math.floor(x.max * n + 1e-6); k++) {
            const px = x.getPixelForValue(k / n), len = k % n === 0 ? 18 : 9;
            ctx.moveTo(px, a.top); ctx.lineTo(px, a.top + len);
            ctx.moveTo(px, a.bottom); ctx.lineTo(px, a.bottom - len);
        }
        for (let k = Math.ceil(y.min * 5 - 1e-6); k <= Math.floor(y.max * 5 + 1e-6); k++) {
            const py = y.getPixelForValue(k / 5), len = k % 5 === 0 ? 18 : 10;
            ctx.moveTo(a.left, py); ctx.lineTo(a.left + len, py);
            ctx.moveTo(a.right, py); ctx.lineTo(a.right - len, py);
        }
        ctx.stroke();
        ctx.lineWidth = 2.5;
        ctx.strokeRect(a.left, a.top, a.right - a.left, a.bottom - a.top);

        ctx.fillStyle = "#000";
        ctx.font = '23px "DejaVu Serif"';
        if (opts.col === 0) {
            ctx.textAlign = "right"; ctx.textBaseline = "middle";
            for (const v of yTickLabels) ctx.fillText("\u2212" + Math.abs(v), a.left - 14, y.getPixelForValue(v) + 2);
        }
        if (opts.row === zLabels.length - 1) {
            ctx.textAlign = "center"; ctx.textBaseline = "middle";
            for (const v of xTickLabels[opts.col]) {
                ctx.fillText((v < 0 ? "\u2212" : "") + Math.abs(v), x.getPixelForValue(v), a.bottom + 30);
            }
        }
        ctx.restore();
    }
};

const lineSet = (data, color, width, dash, extra) => Object.assign({
    data: toXY(data), borderColor: color, borderWidth: width, borderDash: dash,
    pointRadius: 0, fill: false, tension: 0, clip: 0
}, extra || {});

for (let r = 0; r < zLabels.length; r++) {
    for (let c = 0; c < massLabels.length; c++) {
        const i = r * massLabels.length + c;
        const pad = { left: c === 0 ? 112 : 6, right: 6, top: 6, bottom: r === zLabels.length - 1 ? 60 : 6 };
        const w = colEdges[c + 1] - colEdges[c], h = rowEdges[r + 1] - rowEdges[r];
        const canvas = document.createElement("canvas");
        canvas.width = w + pad.left + pad.right;
        canvas.height = h + pad.top + pad.bottom;
        canvas.style.left = (colEdges[c] - pad.left) + "px";
        canvas.style.top = (rowEdges[r] - pad.top) + "px";
        page.appendChild(canvas);

        const smooth = { cubicInterpolationMode: "monotone" };
        const datasets = [
            lineSet(solidCurve[i], "#000", 3, [], smooth),
            lineSet(dottedCurve[i], "#000", 2.5, [2, 5], smooth),
            lineSet(greenCurve[i], GREEN, 2.5, [11, 8], smooth),
            lineSet(bluePoints[i], BLUE, 2.5, [10, 6], { errs: toErr(bluePoints[i]) }),
            lineSet(redPoints[i], RED, 2.5, [], { errs: toErr(redPoints[i]) }),
            lineSet(orangeUpper[i], ORANGE, 2, [], { fill: "+1", backgroundColor: hatch }),
            lineSet(orangeLower[i], ORANGE, 2, [])
        ];

        new Chart(canvas, {
            type: "line",
            data: { datasets },
            options: {
                responsive: false, animation: false, events: [],
                layout: { padding: pad },
                scales: {
                    x: { type: "linear", min: xRanges[c][0], max: xRanges[c][1], display: false },
                    y: { type: "linear", min: yRange[0], max: yRange[1], display: false }
                },
                plugins: {
                    legend: { display: false }, tooltip: { enabled: false },
                    panelAxes: { row: r, col: c, minor: xMinorPerUnit[c] }
                }
            },
            plugins: [panelAxes]
        });

        if (c === 0) {
            const z = document.createElement("div");
            z.className = "txt zlab";
            z.textContent = zLabels[r];
            z.style.left = (colEdges[0] + 11) + "px";
            z.style.top = (rowEdges[r + 1] - 37) + "px";
            page.appendChild(z);
        }
    }
}

// Column titles and axis titles
massLabels.forEach((t, c) => {
    const d = document.createElement("div");
    d.className = "txt mass";
    d.textContent = t;
    d.style.left = massCenters[c] + "px";
    page.appendChild(d);
});

const xt = document.createElement("div");
xt.className = "txt axt";
xt.textContent = "log(sSFR in Gyr\u207B\u00B9)";
xt.style.left = "555px"; xt.style.top = "984px";
xt.style.transform = "translateX(-50%)";
page.appendChild(xt);

const yt = document.createElement("div");
yt.className = "txt ayt";
yt.innerHTML = "log \u03A6&nbsp;&nbsp;&nbsp;&nbsp;&nbsp;(Mpc\u207B\u00B3 dex\u207B\u00B9)";
yt.style.left = "30px"; yt.style.top = "466px";
yt.style.transform = "translate(-50%, -50%) rotate(-90deg)";
page.appendChild(yt);
</script>
</body>
</html>
